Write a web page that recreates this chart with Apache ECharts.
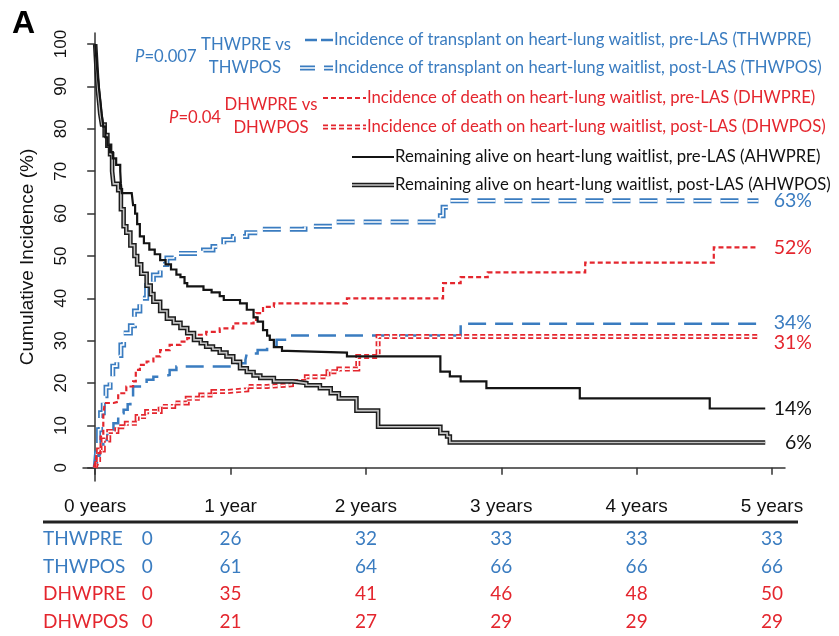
<!DOCTYPE html>
<html>
<head>
<meta charset="utf-8">
<script src="https://cdn.jsdelivr.net/npm/echarts@6/dist/echarts.min.js"></script>
<style>
  html, body { margin: 0; padding: 0; background: #ffffff; }
  #chart { width: 839px; height: 636px; }
</style>
</head>
<body>
<div id="chart"></div>
<script>
// Colours
const BLUE = '#3a7cc0';
const RED = '#e4262e';
const BLACK = '#141414';

// Cumulative incidence step curves: [years since listing, percent]
const thwpre = [
  [0, 0], [0.01, 2.7], [0.03, 4.5], [0.06, 6.6], [0.09, 8.5], [0.135, 10.5], [0.17, 12.9],
  [0.21, 13.7], [0.24, 15], [0.26, 16], [0.28, 19.2], [0.33, 20], [0.38, 20.8], [0.43, 21.5],
  [0.48, 21.9], [0.55, 23.1], [0.6, 23.9], [1.02, 24.7], [1.11, 25.5], [1.12, 27], [1.2, 27.8],
  [1.27, 28.6], [1.34, 30.2], [1.44, 31.2], [2.7, 34], [4.92, 34]
];
const thwpos = [
  [0, 0], [0.01, 3.5], [0.025, 9], [0.04, 13], [0.06, 17], [0.08, 19], [0.11, 21.5], [0.13, 24],
  [0.16, 26.5], [0.19, 29], [0.21, 31.8], [0.26, 33.5], [0.29, 37], [0.33, 40], [0.38, 43],
  [0.43, 45.5], [0.48, 48], [0.53, 49.5], [0.58, 50.6], [0.8, 51.4], [0.87, 52.2], [0.95, 53.8],
  [1.02, 54.6], [1.12, 55.5], [1.2, 56.3], [1.55, 57], [1.75, 58], [2.55, 59.5], [2.57, 61.5],
  [2.62, 63], [4.9, 63]
];
const dhwpre = [
  [0, 0], [0.01, 3.5], [0.04, 7.4], [0.06, 12.1], [0.07, 15.3], [0.135, 15.6], [0.17, 17.6],
  [0.23, 19.2], [0.28, 20.4], [0.3, 23.1], [0.33, 24.3], [0.38, 25.1], [0.43, 26.3], [0.48, 27.8],
  [0.55, 29], [0.63, 29.8], [0.68, 30.6], [0.73, 31.4], [0.82, 32.1], [0.92, 32.9], [1.02, 34.1],
  [1.17, 34.9], [1.19, 36.5], [1.24, 38], [1.32, 38.8], [1.86, 40], [2.57, 43.6], [2.7, 45],
  [2.9, 46.1], [3.62, 48.4], [4.57, 52], [4.9, 52]
];
const dhwpos = [
  [0, 0], [0.01, 1.1], [0.025, 4.2], [0.06, 6.6], [0.1, 8.6], [0.16, 9.7], [0.23, 10.5],
  [0.31, 12.1], [0.38, 13.3], [0.48, 14.5], [0.58, 15.3], [0.68, 16.4], [0.78, 17.2], [0.87, 18],
  [0.97, 18.4], [1.12, 19.2], [1.27, 19.6], [1.45, 20.4], [1.56, 21.5], [1.72, 22.7], [1.8, 23.3],
  [1.94, 26.3], [2.09, 31], [4.9, 31]
];
const ahwpre = [
  [0, 100], [0.005, 98], [0.012, 95], [0.02, 92], [0.03, 89], [0.04, 86], [0.05, 83], [0.06, 80.5],
  [0.075, 78], [0.09, 76], [0.11, 74.5], [0.13, 73], [0.155, 71.5], [0.185, 70], [0.19, 67],
  [0.197, 64.8], [0.27, 64.4], [0.28, 62], [0.295, 60], [0.31, 57.5], [0.33, 54.6], [0.36, 53],
  [0.4, 51.5], [0.44, 50.4], [0.48, 49], [0.52, 48], [0.56, 46.8], [0.6, 45.6], [0.63, 45],
  [0.66, 43.6], [0.68, 42.8], [0.8, 42], [0.86, 41.4], [0.92, 40.5], [0.95, 39.6], [1.07, 38.8],
  [1.12, 37.3], [1.17, 35.5], [1.2, 34.5], [1.24, 32.5], [1.27, 31.2], [1.29, 30.2], [1.32, 28.5],
  [1.38, 27.6], [1.42, 27.2], [1.86, 26.3], [2.55, 22.7], [2.62, 21.6], [2.7, 20.4], [2.89, 18.8],
  [3.58, 16.4], [4.54, 14], [4.95, 14]
];
const ahwpos = [
  [0, 100], [0.005, 97], [0.012, 93], [0.02, 89], [0.03, 86], [0.037, 83.6], [0.05, 81], [0.07, 78.5],
  [0.09, 76], [0.11, 74], [0.125, 70], [0.135, 67], [0.17, 65.5], [0.19, 61], [0.21, 57], [0.23, 55.5],
  [0.26, 52.5], [0.29, 50], [0.31, 48], [0.34, 45.8], [0.38, 43], [0.41, 41], [0.43, 39.2],
  [0.48, 37], [0.53, 35.2], [0.58, 34.2], [0.63, 33], [0.68, 31.8], [0.73, 30.2], [0.78, 29.4],
  [0.82, 28.6], [0.87, 28], [0.92, 27.2], [0.97, 26.3], [1.02, 25], [1.07, 23.5], [1.12, 22.6],
  [1.17, 21.8], [1.22, 21.2], [1.32, 20.4], [1.46, 20], [1.56, 19.5], [1.66, 18.8], [1.74, 17.6],
  [1.8, 16.4], [1.93, 13.5], [2.09, 9.7], [2.55, 8.2], [2.6, 7.4], [2.62, 6], [4.95, 6]
];

// Axis ticks
const yearTicks = [0, 1, 2, 3, 4, 5];
const yearLabels = ['0 years', '1 year', '2 years', '3 years', '4 years', '5 years'];
const percentTicks = [0, 10, 20, 30, 40, 50, 60, 70, 80, 90, 100];

// Number of events table below the axis
const tableRows = ['THWPRE', 'THWPOS', 'DHWPRE', 'DHWPOS'];
const thwpreCounts = [0, 26, 32, 33, 33, 33];
const thwposCounts = [0, 61, 64, 66, 66, 66];
const dhwpreCounts = [0, 35, 41, 46, 48, 50];
const dhwposCounts = [0, 21, 27, 29, 29, 29];

const SANS = '"Liberation Sans", Arial, sans-serif';
const CAL = 'Lato, "Open Sans", sans-serif';
const DBL_BLACK = '#1c1c1c';
const DBL_GREY = '#c4c4c4';

const chart = echarts.init(document.getElementById('chart'), null, { renderer: 'canvas' });

function stepLine(data, color, width, dash, z) {
  return {
    type: 'line', step: 'end', data: data, symbol: 'none', showSymbol: false,
    silent: true, animation: false, z: z,
    lineStyle: { color: color, width: width, type: dash, cap: 'butt', join: 'miter' }
  };
}

const LONG = [18, 9];
const SHORT = [5, 3];

chart.setOption({
  animation: false,
  grid: { left: 83, right: 54, top: 33, bottom: 155, containLabel: false },
  xAxis: {
    type: 'value', min: -0.09, max: 5.096,
    axisLine: { show: true, lineStyle: { color: '#333', width: 1.5 } },
    axisTick: { show: true, customValues: yearTicks, length: 7, lineStyle: { color: '#333', width: 1.5 } },
    axisLabel: {
      customValues: yearTicks, margin: 16, color: '#111', fontSize: 19, fontFamily: SANS,
      formatter: v => yearLabels[yearTicks.indexOf(Math.round(v))]
    },
    splitLine: { show: false }
  },
  yAxis: {
    type: 'value', min: -3.1, max: 102.6,
    name: 'Cumulative Incidence (%)', nameLocation: 'middle', nameGap: 46, nameRotate: 90,
    nameTextStyle: { color: '#111', fontSize: 19, fontFamily: SANS },
    axisLine: { show: true, lineStyle: { color: '#333', width: 1.5 } },
    axisTick: { show: true, customValues: percentTicks, length: 8, lineStyle: { color: '#333', width: 1.5 } },
    axisLabel: { show: false },
    splitLine: { show: false }
  },
  series: [
    stepLine(thwpos, BLUE, 5, LONG, 2),
    stepLine(thwpos, '#ffffff', 1.6, LONG, 3),
    stepLine(thwpre, BLUE, 2.5, LONG, 4),
    stepLine(dhwpos, RED, 5, SHORT, 5),
    stepLine(dhwpos, '#ffffff', 1.6, SHORT, 6),
    stepLine(dhwpre, RED, 2.2, SHORT, 7),
    stepLine(ahwpos, DBL_BLACK, 4.6, 'solid', 8),
    stepLine(ahwpos, DBL_GREY, 1.6, 'solid', 9),
    stepLine(ahwpre, BLACK, 2.2, 'solid', 10)
  ]
});

// ---- annotations ----
const g = [];
const px = v => chart.convertToPixel({ xAxisIndex: 0 }, v);
const py = v => chart.convertToPixel({ yAxisIndex: 0 }, v);

function txt(x, y, text, fill, size, font, align, extra) {
  g.push(Object.assign({
    type: 'text', x: x, y: y, silent: true,
    style: { text: text, fill: fill, fontSize: size, fontFamily: font, align: align || 'left', verticalAlign: 'middle' }
  }, extra || {}));
}
function seg(x1, x2, y, stroke, width, dash) {
  g.push({
    type: 'line', silent: true, shape: { x1: x1, y1: y, x2: x2, y2: y },
    style: { stroke: stroke, lineWidth: width, lineDash: dash || null, lineCap: 'butt' }
  });
}

// Y tick labels, turned to read upwards
percentTicks.forEach(v => {
  txt(61.5, py(v), String(v), '#111', 17, SANS, 'center', { rotation: Math.PI / 2 });
});

// Panel letter
g.push({ type: 'text', x: 12, y: 8, silent: true,
  style: { text: 'A', fill: '#000', fontSize: 32, fontWeight: 'bold', fontFamily: SANS } });

// Legend
const LG = 16.7;
function pText(x, y, val, color) {
  g.push({ type: 'text', x: x, y: y, silent: true, style: {
    text: '{i|P}{n|=' + val + '}', verticalAlign: 'middle',
    rich: {
      i: { fontStyle: 'italic', fill: color, fontSize: LG, fontFamily: CAL },
      n: { fill: color, fontSize: LG, fontFamily: CAL }
    }
  } });
}
pText(135, 57, '0.007', BLUE);
txt(246, 45, 'THWPRE vs', BLUE, LG, CAL, 'center');
txt(245, 68, 'THWPOS', BLUE, LG, CAL, 'center');
pText(169, 118, '0.04', RED);
txt(271, 105, 'DHWPRE vs', RED, LG, CAL, 'center');
txt(271, 128, 'DHWPOS', RED, LG, CAL, 'center');

const legendRows = [
  { y: 40, x1: 305, x2: 333, color: BLUE, width: 2.5, dash: [12, 4], dbl: false,
    text: 'Incidence of transplant on heart-lung waitlist, pre-LAS (THWPRE)' },
  { y: 68, x1: 300, x2: 333, color: BLUE, width: 5, dash: [15, 9], dbl: true,
    text: 'Incidence of transplant on heart-lung waitlist, post-LAS (THWPOS)' },
  { y: 98, x1: 323, x2: 366, color: RED, width: 2.2, dash: SHORT, dbl: false,
    text: 'Incidence of death on heart-lung waitlist, pre-LAS (DHWPRE)' },
  { y: 127, x1: 323, x2: 366, color: RED, width: 5, dash: SHORT, dbl: true,
    text: 'Incidence of death on heart-lung waitlist, post-LAS (DHWPOS)' },
  { y: 157, x1: 352, x2: 394, color: BLACK, width: 2.2, dash: null, dbl: false,
    text: 'Remaining alive on heart-lung waitlist, pre-LAS (AHWPRE)' },
  { y: 185, x1: 352, x2: 394, color: DBL_BLACK, width: 4.6, dash: null, dbl: true,
    text: 'Remaining alive on heart-lung waitlist, post-LAS (AHWPOS)' }
];
legendRows.forEach(r => {
  seg(r.x1, r.x2, r.y, r.color, r.width, r.dash);
  if (r.dbl) seg(r.x1, r.x2, r.y, r.color === DBL_BLACK ? DBL_GREY : '#ffffff', 1.6, r.dash);
  const tc = r.color === BLUE ? BLUE : (r.color === RED ? RED : '#111');
  txt(r.x2 + 1, r.y, r.text, tc, LG, CAL, 'left');
});

// Final values at the right end of each curve
const ends = [
  { data: thwpos, color: BLUE, dy: 0 },
  { data: dhwpre, color: RED, dy: 0 },
  { data: thwpre, color: BLUE, dy: -1 },
  { data: dhwpos, color: RED, dy: 6 },
  { data: ahwpre, color: '#111', dy: 0 },
  { data: ahwpos, color: '#111', dy: 0 }
];
ends.forEach(e => {
  const last = e.data[e.data.length - 1][1];
  txt(812, py(last) + e.dy, last + '%', e.color, 19.5, CAL, 'right');
});

// Events table
const tableY = [539, 567, 594, 622];
const tableColors = [BLUE, BLUE, RED, RED];
const tableCounts = [thwpreCounts, thwposCounts, dhwpreCounts, dhwposCounts];
g.push({ type: 'line', silent: true, shape: { x1: 43, y1: 522, x2: 798, y2: 522 },
  style: { stroke: '#222', lineWidth: 3 } });
tableRows.forEach((name, i) => {
  txt(43, tableY[i], name, tableColors[i], 19, CAL, 'left');
  tableCounts[i].forEach((c, j) => {
    const x = j === 0 ? px(yearTicks[0]) + 52 : px(yearTicks[j]);
    txt(x, tableY[i], String(c), tableColors[i], 19, CAL, 'center');
  });
});

chart.setOption({ graphic: { elements: g } });
</script>
</body>
</html>
